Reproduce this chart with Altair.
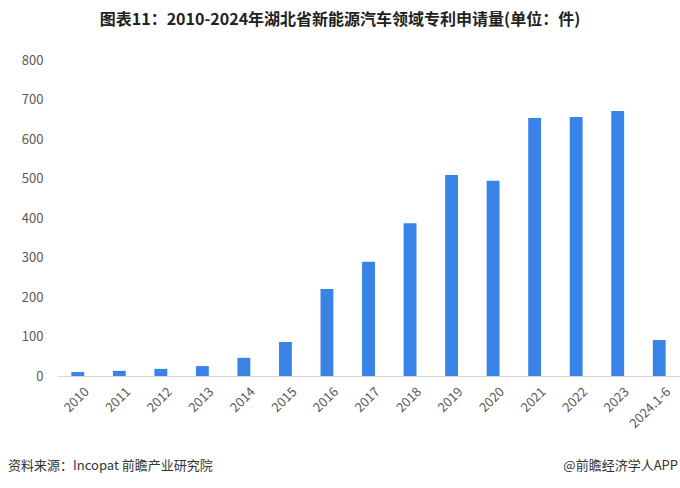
import altair as alt
import pandas as pd

years = ["2010", "2011", "2012", "2013", "2014", "2015", "2016", "2017",
         "2018", "2019", "2020", "2021", "2022", "2023", "2024.1-6"]
values = [10, 13, 18, 25, 46, 86, 220, 289, 387, 509, 494, 653, 656, 671, 91]

title_text = "图表11：2010-2024年湖北省新能源汽车领域专利申请量(单位：件)"
source_text = "资料来源：Incopat 前瞻产业研究院"
brand_text = "@前瞻经济学人APP"

df = pd.DataFrame({"year": years, "value": values})
one = pd.DataFrame({"k": [0]})

W, H = 623, 316
FONT = "Noto Sans CJK SC"

bars = alt.Chart(df).mark_bar(color="#3a83e6").encode(
    x=alt.X("year:N", sort=years,
            scale=alt.Scale(paddingInner=0.69, paddingOuter=0.345),
            axis=alt.Axis(title=None, labelAngle=-45, labelAlign="right",
                          labelBaseline="top", labelFont=FONT, labelFontSize=13,
                          labelColor="#595959", ticks=False, domainColor="#d9d9d9",
                          labelPadding=9, labelOffset=5)),
    y=alt.Y("value:Q", scale=alt.Scale(domain=[0, 800]),
            axis=alt.Axis(title=None, values=list(range(0, 801, 100)), grid=False,
                          domain=False, ticks=False, labelFont=FONT, labelFontSize=13,
                          labelColor="#595959", labelPadding=14)),
)

title = alt.Chart(one).mark_text(font=FONT, fontSize=16, fontWeight="bold",
                                 color="#222222", align="center", baseline="middle").encode(
    x=alt.value(283), y=alt.value(-40), text=alt.value(title_text))

src = alt.Chart(one).mark_text(font=FONT, fontSize=13, color="#333333",
                               align="left", baseline="middle").encode(
    x=alt.value(-49), y=alt.value(H + 90), text=alt.value(source_text))

brand = alt.Chart(one).mark_text(font=FONT, fontSize=13, color="#333333",
                                 align="right", baseline="middle").encode(
    x=alt.value(621), y=alt.value(H + 90), text=alt.value(brand_text))

chart = alt.layer(bars, title, src, brand).properties(
    width=W, height=H,
    autosize=alt.AutoSizeParams(type="none"),
    padding={"left": 57, "top": 60, "right": 0, "bottom": 112},
).configure(background="white").configure_view(stroke=None)

chart.save("out.html", embed_options={"renderer": "svg", "actions": False})
